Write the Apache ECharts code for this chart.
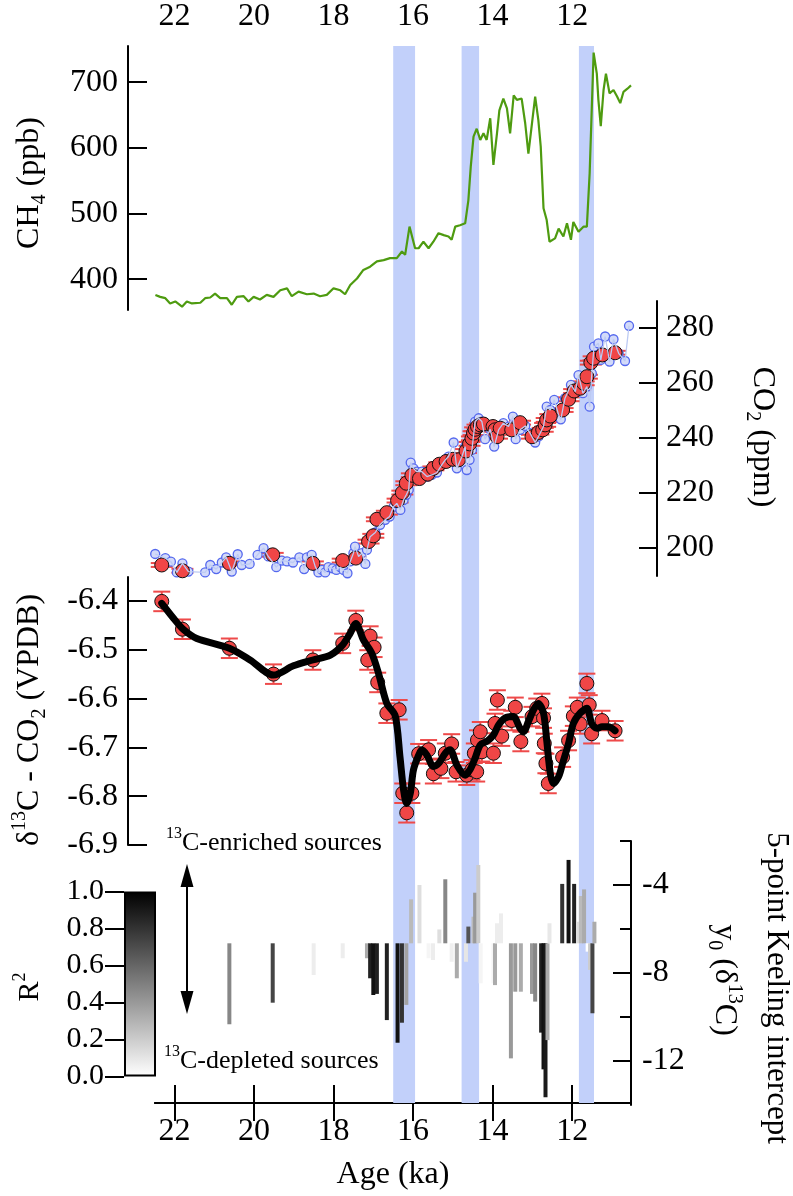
<!DOCTYPE html>
<html><head><meta charset="utf-8">
<script src="https://cdn.jsdelivr.net/npm/echarts@6/dist/echarts.min.js"></script>
<style>html,body{margin:0;padding:0;background:#fff}#c{width:793px;height:1196px}</style>
</head><body><div id="c"></div>
<script>
// ---------------- data ----------------
const ageTicks = [22, 20, 18, 16, 14, 12];
const ch4Ticks = [400, 500, 600, 700];
const co2Ticks = [200, 220, 240, 260, 280];
const d13cTicks = [-6.9, -6.8, -6.7, -6.6, -6.5, -6.4];
const keelTicks = [-12, -8, -4];
const keelMinorTicks = [-10, -6, -2];
const r2Ticks = [0, 0.2, 0.4, 0.6, 0.8, 1.0];

// shaded intervals [start, end] (ka)
const bands = [[16.5, 15.95], [14.78, 14.34], [11.83, 11.45]];

// CH4 (ppb) [age, value]
const ch4 = [[22.48,376],[22.36,373],[22.23,371],[22.11,363],[21.98,366],[21.81,358],[21.69,366],[21.56,363],[21.35,364],[21.23,371],[21.10,372],[20.98,378],[20.85,371],[20.68,371],[20.56,361],[20.43,373],[20.26,374],[20.14,366],[20.01,373],[19.85,369],[19.68,376],[19.51,373],[19.34,383],[19.17,386],[19.05,374],[18.88,381],[18.67,377],[18.50,378],[18.34,374],[18.17,376],[18.00,386],[17.83,383],[17.71,377],[17.58,391],[17.41,401],[17.25,414],[17.08,419],[16.91,427],[16.74,429],[16.58,432],[16.41,432],[16.28,442],[16.20,437],[16.09,480],[15.95,447],[15.86,447],[15.74,457],[15.61,447],[15.49,457],[15.36,470],[15.23,467],[15.11,465],[15.03,460],[14.94,480],[14.82,482],[14.69,485],[14.61,520],[14.55,571],[14.48,617],[14.40,629],[14.31,612],[14.23,622],[14.15,612],[14.06,645],[13.98,574],[13.89,622],[13.83,657],[13.73,675],[13.64,660],[13.56,622],[13.47,680],[13.39,673],[13.27,675],[13.18,637],[13.10,591],[13.01,637],[12.93,678],[12.85,642],[12.79,602],[12.72,508],[12.64,490],[12.57,457],[12.43,462],[12.34,477],[12.22,465],[12.13,485],[12.03,460],[11.97,487],[11.84,472],[11.71,480],[11.63,480],[11.56,561],[11.505,662],[11.46,745],[11.38,713],[11.34,673],[11.28,633],[11.21,688],[11.15,713],[11.06,683],[10.96,688],[10.87,678],[10.79,668],[10.71,685],[10.61,690],[10.52,695]];

// CO2 (ppm) high-resolution record [age, value]
const co2Blue = [[22.485,197.8],[22.23,196.3],[22.09,195.0],[21.94,191.1],[21.80,194.4],[21.65,191.4],[21.23,191.1],[21.10,193.8],[20.95,192.3],[20.81,194.7],[20.70,196.6],[20.56,191.4],[20.41,197.7],[20.31,193.8],[20.11,194.2],[19.91,197.5],[19.76,199.9],[19.64,196.9],[19.44,193.0],[19.30,195.4],[19.17,195.1],[19.02,194.7],[18.86,196.6],[18.74,192.3],[18.67,196.6],[18.55,197.5],[18.46,193.2],[18.38,191.1],[18.29,192.0],[18.21,191.1],[18.13,193.0],[18.02,192.6],[17.93,192.0],[17.83,193.0],[17.75,192.0],[17.65,190.8],[17.58,195.1],[17.50,198.1],[17.46,200.5],[17.37,196.9],[17.29,198.1],[17.20,194.2],[17.16,199.3],[17.08,204.1],[16.95,205.6],[16.83,208.4],[16.70,210.2],[16.59,211.4],[16.49,215.0],[16.41,216.2],[16.32,213.8],[16.24,217.4],[16.17,219.3],[16.11,221.1],[16.06,231.0],[15.99,228.9],[15.905,227.7],[15.78,227.7],[15.65,225.9],[15.53,226.5],[15.40,227.4],[15.28,230.2],[15.19,232.0],[15.11,233.2],[14.98,238.3],[14.90,228.9],[14.77,233.2],[14.69,236.8],[14.65,228.3],[14.58,232.0],[14.52,235.6],[14.44,245.9],[14.35,247.1],[14.27,245.9],[14.19,239.5],[14.06,243.1],[13.96,236.8],[13.85,242.9],[13.73,245.3],[13.60,244.1],[13.49,247.7],[13.42,239.5],[13.31,242.9],[13.18,244.3],[13.06,241.7],[12.93,238.3],[12.85,240.4],[12.72,244.1],[12.64,251.3],[12.55,250.1],[12.45,253.8],[12.34,248.3],[12.285,246.7],[12.18,254.4],[12.03,259.2],[11.92,256.8],[11.84,262.8],[11.73,256.2],[11.63,258.6],[11.56,251.3],[11.505,263.4],[11.45,273.1],[11.34,274.3],[11.28,268.3],[11.17,276.8],[11.06,267.7],[10.96,275.8],[10.83,270.7],[10.67,267.9],[10.57,280.7]];

// CO2 (ppm) measured with d13C [age, value]
const co2Red = [[22.32,193.8],[21.80,191.7],[20.62,194.4],[19.53,197.5],[18.52,194.4],[17.77,195.4],[17.44,196.3],[17.12,202.3],[17.00,204.4],[16.91,210.4],[16.66,212.8],[16.39,217.2],[16.27,220.1],[16.17,223.5],[16.03,226.4],[15.84,225.2],[15.63,226.8],[15.49,228.9],[15.34,230.4],[15.17,231.4],[15.00,232.2],[14.86,232.0],[14.67,235.2],[14.58,237.8],[14.52,239.8],[14.48,241.7],[14.44,243.1],[14.38,244.1],[14.31,244.7],[14.23,245.0],[13.99,244.1],[13.94,242.9],[13.89,240.4],[13.81,243.5],[13.52,242.9],[13.31,245.5],[13.01,240.4],[12.85,241.9],[12.74,242.9],[12.68,244.7],[12.64,246.5],[12.55,247.9],[12.24,250.1],[12.09,254.0],[11.95,257.0],[11.80,258.0],[11.71,259.8],[11.63,262.2],[11.53,267.3],[11.46,268.9],[11.24,270.1],[10.92,270.9]];
const co2Err = 0.7;

// d13C-CO2 (permil VPDB) [age, value]
const d13c = [[22.32,-6.401],[21.80,-6.458],[20.62,-6.497],[19.51,-6.550],[18.52,-6.521],[17.77,-6.487],[17.44,-6.440],[17.14,-6.521],[17.08,-6.472],[16.98,-6.495],[16.89,-6.567],[16.66,-6.630],[16.35,-6.623],[16.26,-6.794],[16.16,-6.834],[16.03,-6.794],[15.86,-6.713],[15.61,-6.705],[15.49,-6.754],[15.30,-6.743],[15.19,-6.712],[15.03,-6.693],[14.92,-6.750],[14.65,-6.757],[14.52,-6.746],[14.46,-6.712],[14.40,-6.750],[14.38,-6.685],[14.31,-6.668],[14.27,-6.709],[13.98,-6.712],[13.94,-6.651],[13.88,-6.603],[13.77,-6.677],[13.52,-6.645],[13.43,-6.618],[13.29,-6.688],[13.01,-6.637],[12.89,-6.620],[12.76,-6.610],[12.72,-6.640],[12.70,-6.692],[12.66,-6.733],[12.60,-6.774],[12.24,-6.720],[12.09,-6.686],[11.97,-6.636],[11.87,-6.618],[11.80,-6.652],[11.63,-6.569],[11.57,-6.613],[11.51,-6.672],[11.25,-6.645],[10.92,-6.666]];
const d13cErr = 0.02;

// smoothing spline through d13C [age, value]
const d13cSpline = [[22.32,-6.405],[22.02,-6.436],[21.77,-6.459],[21.44,-6.477],[20.62,-6.497],[20.10,-6.521],[19.51,-6.552],[19.01,-6.533],[18.52,-6.521],[18.08,-6.511],[17.77,-6.490],[17.58,-6.466],[17.44,-6.446],[17.25,-6.480],[17.04,-6.507],[16.87,-6.548],[16.66,-6.610],[16.45,-6.635],[16.33,-6.719],[16.24,-6.787],[16.16,-6.815],[16.07,-6.794],[15.99,-6.746],[15.86,-6.716],[15.78,-6.705],[15.65,-6.716],[15.49,-6.739],[15.36,-6.733],[15.19,-6.712],[15.07,-6.705],[14.90,-6.736],[14.69,-6.757],[14.57,-6.746],[14.44,-6.722],[14.31,-6.695],[14.15,-6.688],[13.98,-6.675],[13.85,-6.654],[13.69,-6.640],[13.48,-6.637],[13.31,-6.661],[13.22,-6.668],[13.10,-6.647],[12.97,-6.623],[12.85,-6.610],[12.72,-6.630],[12.64,-6.685],[12.55,-6.753],[12.47,-6.774],[12.34,-6.760],[12.24,-6.733],[12.09,-6.692],[11.97,-6.651],[11.80,-6.630],[11.63,-6.620],[11.51,-6.651],[11.38,-6.661],[11.25,-6.658],[11.09,-6.658],[10.92,-6.666]];

// 5-point Keeling intercept [age, y0, R2]
const keelingBase = -6.65;
const keeling = [[20.62,-10.33,0.47],[19.53,-9.35,0.73],[18.50,-8.09,0.07],[17.77,-7.33,0.07],[17.16,-7.33,0.33],[17.08,-8.24,0.87],[17.00,-9.00,0.93],[16.91,-8.95,0.87],[16.66,-10.14,0.87],[16.39,-11.17,0.93],[16.28,-10.26,0.80],[16.17,-9.45,0.36],[16.05,-4.65,0.27],[15.84,-4.00,0.13],[15.61,-7.33,0.04],[15.50,-7.41,0.07],[15.34,-6.02,0.13],[15.19,-3.74,0.47],[15.03,-7.49,0.06],[14.90,-8.24,0.33],[14.67,-7.49,0.10],[14.61,-5.89,0.67],[14.48,-5.44,0.27],[14.44,-4.35,0.40],[14.36,-3.09,0.20],[14.30,-8.47,0.04],[13.98,-8.47,0.04],[13.94,-8.55,0.33],[13.89,-5.74,0.07],[13.79,-5.29,0.07],[13.54,-11.88,0.40],[13.43,-8.85,0.40],[13.29,-8.85,0.33],[13.01,-8.95,0.40],[12.93,-9.30,0.47],[12.78,-10.71,0.87],[12.72,-12.38,0.93],[12.67,-13.65,0.90],[12.62,-11.05,0.33],[12.57,-5.74,0.09],[12.25,-3.95,0.80],[12.09,-2.86,0.93],[11.95,-3.95,0.87],[11.84,-5.67,0.13],[11.78,-4.50,0.27],[11.70,-4.20,0.33],[11.61,-7.03,0.0],[11.55,-7.86,0.20],[11.49,-9.83,0.73],[11.44,-5.67,0.33]];

// ---------------- chart ----------------
const serif = '"Liberation Serif", "Times New Roman", "DejaVu Serif", serif';
const X_MIN = 10.52, X_MAX = 22.49;
const GL = 155, GW = 476;
const black = '#000';
const lab = (size) => ({fontFamily: serif, fontSize: size, color: black, fontWeight: 'normal'});
// axis label with rich text so the serif face is applied to every label
function axLab(vals, size, margin, fmt) {
  return {
    customValues: vals, margin: margin, fontFamily: serif, fontSize: size, color: black,
    formatter: v => '{a|' + (fmt ? fmt(v) : String(v)) + '}',
    rich: {a: {fontFamily: serif, fontSize: size, color: black}}
  };
}
const f1 = v => Number(v).toFixed(1);

function hiddenX(gi) {
  return {type: 'value', gridIndex: gi, min: X_MIN, max: X_MAX, inverse: true, show: false};
}
function yAx(o) {
  return Object.assign({
    type: 'value', splitLine: {show: false},
    axisLine: {show: true, onZero: false, lineStyle: {color: black, width: 2}},
  }, o);
}
function errRender(half) {
  return function (params, api) {
    const x = api.value(0), y = api.value(1), e = api.value(2);
    const t = api.coord([x, y + e]), b = api.coord([x, y - e]);
    const st = {stroke: '#ee4a4a', lineWidth: 2};
    return {type: 'group', children: [
      {type: 'line', shape: {x1: t[0], y1: t[1], x2: b[0], y2: b[1]}, style: st},
      {type: 'line', shape: {x1: t[0] - half, y1: t[1], x2: t[0] + half, y2: t[1]}, style: st},
      {type: 'line', shape: {x1: b[0] - half, y1: b[1], x2: b[0] + half, y2: b[1]}, style: st}
    ]};
  };
}
const rich = (m, s, lh) => ({
  t: {fontFamily: serif, fontSize: m, lineHeight: lh, fill: black},
  sub: {fontFamily: serif, fontSize: s, lineHeight: s, verticalAlign: 'bottom', fill: black},
  sup: {fontFamily: serif, fontSize: s, lineHeight: s, verticalAlign: 'top', fill: black}
});
function txt(x, y, rot, text, r, align) {
  return {type: 'text', x: x, y: y, rotation: rot, z: 100,
    style: {text: text, rich: r, fill: black, align: align || 'center', verticalAlign: 'middle'}};
}
const tickStyle = {color: black, width: 2};

const option = {
  animation: false,
  backgroundColor: '#fff',
  textStyle: {fontFamily: serif},
  grid: [
    {left: GL, width: GW, top: 46, height: 1059},      // frame
    {left: GL, width: GW, top: 46, height: 264},       // CH4
    {left: GL, width: GW, top: 301, height: 275},      // CO2
    {left: GL, width: GW, top: 577, height: 268},      // d13C
    {left: GL, width: GW, top: 841, height: 264},      // Keeling
    {left: 124, width: 32, top: 891.5, height: 185}    // colour bar
  ],
  visualMap: [{show: false, type: 'continuous', min: 0, max: 1, dimension: 2, seriesIndex: 9,
    inRange: {color: ['#ffffff', '#000000']}}],
  xAxis: [
    {type: 'value', gridIndex: 0, position: 'top', min: X_MIN, max: X_MAX, inverse: true,
      splitLine: {show: false},
      axisLine: {lineStyle: {color: black, width: 2}},
      axisTick: {inside: true, length: 18, customValues: ageTicks, lineStyle: tickStyle},
      axisLabel: axLab(ageTicks, 32, 13)},
    {type: 'value', gridIndex: 0, position: 'bottom', min: X_MIN, max: X_MAX, inverse: true,
      splitLine: {show: false},
      axisLine: {lineStyle: {color: black, width: 2}},
      axisTick: {inside: true, length: 18, customValues: ageTicks, lineStyle: tickStyle},
      axisLabel: axLab(ageTicks, 32, 13),
      name: 'Age (ka)', nameLocation: 'middle', nameGap: 56, nameTextStyle: lab(32)},
    hiddenX(1), hiddenX(2), hiddenX(3), hiddenX(4),
    {type: 'category', gridIndex: 5, data: ['R2'], show: false}
  ],
  yAxis: [
    {type: 'value', gridIndex: 0, min: 0, max: 1, show: false},
    yAx({gridIndex: 1, position: 'left', offset: 27, min: 353, max: 755,
      axisTick: {inside: true, length: 19, customValues: ch4Ticks, lineStyle: tickStyle},
      axisLabel: axLab(ch4Ticks, 32, 10)}),
    yAx({gridIndex: 2, position: 'right', offset: 26, min: 189.8, max: 289.7,
      axisTick: {inside: true, length: 18, customValues: co2Ticks, lineStyle: tickStyle},
      axisLabel: axLab(co2Ticks, 32, 9)}),
    yAx({gridIndex: 3, position: 'left', offset: 27, min: -6.9, max: -6.351,
      axisTick: {inside: true, length: 19, customValues: d13cTicks, lineStyle: tickStyle},
      axisLabel: axLab(d13cTicks, 32, 10, f1)}),
    yAx({gridIndex: 4, position: 'right', offset: 0, min: -14, max: -2,
      axisTick: {inside: true, length: 18, customValues: keelTicks, lineStyle: tickStyle},
      axisLabel: axLab(keelTicks, 32, 11)}),
    {type: 'value', gridIndex: 4, position: 'right', offset: 0, min: -14, max: -2, splitLine: {show: false},
      axisLine: {show: false},
      axisTick: {show: true, inside: true, length: 11, customValues: keelMinorTicks, lineStyle: tickStyle},
      axisLabel: {show: false}},
    {type: 'value', gridIndex: 5, position: 'left', min: 0, max: 1, splitLine: {show: false},
      axisLine: {show: false},
      axisTick: {show: true, inside: false, length: 19, customValues: r2Ticks, lineStyle: tickStyle},
      axisLabel: axLab(r2Ticks, 30, 20, f1)}
  ],
  series: [
    {type: 'custom', xAxisIndex: 0, yAxisIndex: 0, data: bands, silent: true,
      renderItem: function (params, api) {
        const a = api.coord([api.value(0), 0]), b = api.coord([api.value(1), 0]);
        const cs = params.coordSys;
        return {type: 'rect', shape: {x: Math.min(a[0], b[0]), y: cs.y, width: Math.abs(b[0] - a[0]), height: cs.height},
          style: {fill: '#c2d0fa'}};
      }},
    {type: 'line', xAxisIndex: 2, yAxisIndex: 1, data: ch4, showSymbol: false,
      lineStyle: {color: '#4e9b10', width: 2.2}},
    {type: 'line', xAxisIndex: 3, yAxisIndex: 2, data: co2Blue, showSymbol: false,
      lineStyle: {color: '#bccaf3', width: 1.3}},
    {type: 'scatter', xAxisIndex: 3, yAxisIndex: 2, data: co2Blue, symbolSize: 9,
      itemStyle: {color: '#d3daf9', borderColor: '#5468ee', borderWidth: 1.3, opacity: 1}},
    {type: 'custom', xAxisIndex: 3, yAxisIndex: 2, data: co2Red.map(p => [p[0], p[1], co2Err]),
      renderItem: errRender(11)},
    {type: 'scatter', xAxisIndex: 3, yAxisIndex: 2, data: co2Red, symbolSize: 14,
      itemStyle: {color: '#f04646', borderColor: '#111', borderWidth: 1, opacity: 1}},
    {type: 'custom', xAxisIndex: 4, yAxisIndex: 3, data: d13c.map(p => [p[0], p[1], d13cErr]),
      renderItem: errRender(8.5)},
    {type: 'line', xAxisIndex: 4, yAxisIndex: 3, data: d13cSpline, showSymbol: false, smooth: 0.3,
      lineStyle: {color: '#000', width: 7, cap: 'round', join: 'round'}},
    {type: 'scatter', xAxisIndex: 4, yAxisIndex: 3, data: d13c, symbolSize: 14,
      itemStyle: {color: '#f04646', borderColor: '#111', borderWidth: 1, opacity: 1}},
    {type: 'custom', xAxisIndex: 5, yAxisIndex: 4, data: keeling,
      renderItem: function (params, api) {
        const x = api.value(0), v = api.value(1);
        const p1 = api.coord([x, v]), p0 = api.coord([x, keelingBase]);
        return {type: 'rect', shape: {x: p1[0] - 2, y: Math.min(p0[1], p1[1]), width: 4, height: Math.abs(p1[1] - p0[1])},
          style: {fill: api.visual('color')}};
      }},
    {type: 'bar', xAxisIndex: 6, yAxisIndex: 6, data: [1], barWidth: '100%', silent: true,
      itemStyle: {borderColor: '#000', borderWidth: 2,
        color: new echarts.graphic.LinearGradient(0, 0, 0, 1, [{offset: 0, color: '#000'}, {offset: 1, color: '#fff'}])}}
  ],
  graphic: [
    txt(30, 183, Math.PI / 2, '{t|CH}{sub|4}{t| (ppb)}', rich(32, 20, 40)),
    txt(30, 720, Math.PI / 2, '{t|δ}{sup|13}{t|C - CO}{sub|2}{t| (VPDB)}', rich(32, 20, 40)),
    txt(30, 987, Math.PI / 2, '{t|R}{sup|2}', rich(30, 18, 38)),
    txt(762, 437, -Math.PI / 2, '{t|CO}{sub|2}{t| (ppm)}', rich(32, 20, 40)),
    txt(776, 988, -Math.PI / 2, '{t|5-point Keeling intercept}', rich(31, 20, 40)),
    txt(724, 980, -Math.PI / 2, '{t|y}{sub|0}{t| (δ}{sup|13}{t|C)}', rich(32, 20, 40)),
    txt(166, 843, 0, '{sup|13}{t|C-enriched sources}', rich(26, 16, 34), 'left'),
    txt(164, 1061, 0, '{sup|13}{t|C-depleted sources}', rich(26, 16, 34), 'left'),
    {type: 'line', z: 100, shape: {x1: 187, y1: 880, x2: 187, y2: 998}, style: {stroke: '#000', lineWidth: 2}},
    {type: 'polygon', z: 100, shape: {points: [[187, 864], [180.5, 887], [193.5, 887]]}, style: {fill: '#000'}},
    {type: 'polygon', z: 100, shape: {points: [[187, 1014], [180.5, 991], [193.5, 991]]}, style: {fill: '#000'}}
  ]
};

const chart = echarts.init(document.getElementById('c'), null, {renderer: 'canvas'});
chart.setOption(option);
</script>
</body></html>
